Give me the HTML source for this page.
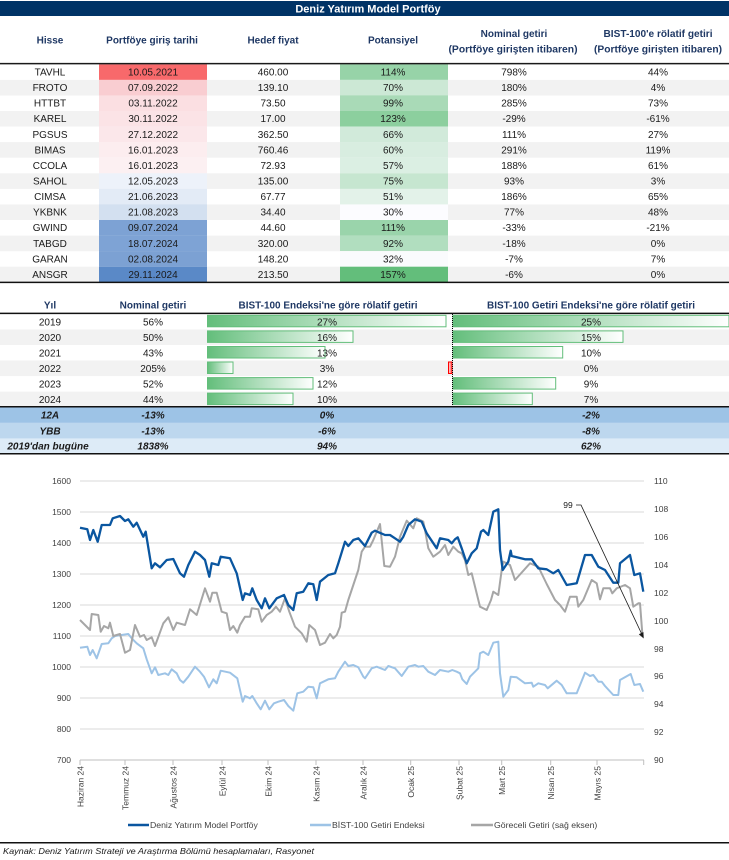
<!DOCTYPE html>
<html><head><meta charset="utf-8"><style>
html,body{margin:0;padding:0;background:#fff;}
svg{display:block;}
text{font-family:"Liberation Sans",sans-serif;}
</style></head><body>
<svg width="729" height="860" viewBox="0 0 729 860" xmlns="http://www.w3.org/2000/svg">
<defs>
<linearGradient id="gg" x1="0" x2="1" y1="0" y2="0"><stop offset="0" stop-color="#63be7b"/><stop offset="1" stop-color="#ffffff"/></linearGradient>
<linearGradient id="rg" x1="1" x2="0" y1="0" y2="0"><stop offset="0" stop-color="#ff5555"/><stop offset="1" stop-color="#ffdddd"/></linearGradient>
</defs>
<rect x="0" y="0" width="729" height="860" fill="#fff"/>
<!-- Title -->
<rect x="0" y="1" width="729" height="15" fill="#003366"/>
<text x="368" y="12.5" font-size="11" font-weight="bold" fill="#fff" text-anchor="middle">Deniz Yatırım Model Portföy</text>
<!-- Header -->
<g font-size="10" font-weight="bold" fill="#1f3864" text-anchor="middle">
<text x="50" y="43.5">Hisse</text>
<text x="152" y="43.5">Portföye giriş tarihi</text>
<text x="273" y="43.5">Hedef fiyat</text>
<text x="393" y="43.5">Potansiyel</text>
<text x="514" y="37">Nominal getiri</text>
<text x="513" y="52.5" textLength="129" lengthAdjust="spacingAndGlyphs">(Portföye girişten itibaren)</text>
<text x="658" y="37" textLength="109" lengthAdjust="spacingAndGlyphs">BIST-100'e rölatif getiri</text>
<text x="658" y="52.5" textLength="128" lengthAdjust="spacingAndGlyphs">(Portföye girişten itibaren)</text>
</g>
<!-- rows backgrounds -->
<g>
<rect x="0" y="79.9" width="729" height="15.6" fill="#f2f2f2"/>
<rect x="0" y="111.0" width="729" height="15.6" fill="#f2f2f2"/>
<rect x="0" y="142.1" width="729" height="15.6" fill="#f2f2f2"/>
<rect x="0" y="173.3" width="729" height="15.6" fill="#f2f2f2"/>
<rect x="0" y="204.4" width="729" height="15.6" fill="#f2f2f2"/>
<rect x="0" y="235.6" width="729" height="15.6" fill="#f2f2f2"/>
<rect x="0" y="266.7" width="729" height="15.6" fill="#f2f2f2"/>
</g>
<!-- date cells -->
<g>
<rect x="99" y="64.3" width="108" height="15.6" fill="#f8696b"/>
<rect x="99" y="79.9" width="108" height="15.6" fill="#f9cdd1"/>
<rect x="99" y="95.4" width="108" height="15.6" fill="#fbdfe2"/>
<rect x="99" y="111.0" width="108" height="15.6" fill="#fbe3e6"/>
<rect x="99" y="126.6" width="108" height="15.6" fill="#fbe7ea"/>
<rect x="99" y="142.1" width="108" height="15.6" fill="#fcedef"/>
<rect x="99" y="157.7" width="108" height="15.6" fill="#fcf0f2"/>
<rect x="99" y="173.3" width="108" height="15.6" fill="#edf2fa"/>
<rect x="99" y="188.9" width="108" height="15.6" fill="#e3ebf6"/>
<rect x="99" y="204.4" width="108" height="15.6" fill="#d3e0f0"/>
<rect x="99" y="220.0" width="108" height="15.6" fill="#7da2d4"/>
<rect x="99" y="235.6" width="108" height="15.6" fill="#7ea3d5"/>
<rect x="99" y="251.1" width="108" height="15.6" fill="#7ca1d3"/>
<rect x="99" y="266.7" width="108" height="15.6" fill="#5a89c7"/>
</g>
<!-- potansiyel cells -->
<g>
<rect x="340" y="64.3" width="108" height="15.6" fill="rgb(151,211,168)"/>
<rect x="340" y="79.9" width="108" height="15.6" fill="rgb(204,232,213)"/>
<rect x="340" y="95.4" width="108" height="15.6" fill="rgb(169,218,183)"/>
<rect x="340" y="111.0" width="108" height="15.6" fill="rgb(140,207,158)"/>
<rect x="340" y="126.6" width="108" height="15.6" fill="rgb(209,234,218)"/>
<rect x="340" y="142.1" width="108" height="15.6" fill="rgb(216,237,224)"/>
<rect x="340" y="157.7" width="108" height="15.6" fill="rgb(219,239,227)"/>
<rect x="340" y="173.3" width="108" height="15.6" fill="rgb(198,230,208)"/>
<rect x="340" y="188.9" width="108" height="15.6" fill="rgb(227,242,233)"/>
<rect x="340" y="204.4" width="108" height="15.6" fill="rgb(252,252,255)"/>
<rect x="340" y="220.0" width="108" height="15.6" fill="rgb(154,212,171)"/>
<rect x="340" y="235.6" width="108" height="15.6" fill="rgb(177,222,191)"/>
<rect x="340" y="251.1" width="108" height="15.6" fill="rgb(250,251,253)"/>
<rect x="340" y="266.7" width="108" height="15.6" fill="rgb(99,190,123)"/>
</g>
<line x1="0" y1="63.6" x2="729" y2="63.6" stroke="#1a1a1a" stroke-width="1.5"/>
<line x1="0" y1="282.4" x2="729" y2="282.4" stroke="#111" stroke-width="1.5"/>
<!-- body text -->
<g font-size="10" fill="#1a1a1a" text-anchor="middle">
<text x="50" y="75.5">TAVHL</text><text x="153" y="75.5">10.05.2021</text><text x="273" y="75.5">460.00</text><text x="393" y="75.5">114%</text><text x="514" y="75.5">798%</text><text x="658" y="75.5">44%</text>
<text x="50" y="91.1">FROTO</text><text x="153" y="91.1">07.09.2022</text><text x="273" y="91.1">139.10</text><text x="393" y="91.1">70%</text><text x="514" y="91.1">180%</text><text x="658" y="91.1">4%</text>
<text x="50" y="106.6">HTTBT</text><text x="153" y="106.6">03.11.2022</text><text x="273" y="106.6">73.50</text><text x="393" y="106.6">99%</text><text x="514" y="106.6">285%</text><text x="658" y="106.6">73%</text>
<text x="50" y="122.2">KAREL</text><text x="153" y="122.2">30.11.2022</text><text x="273" y="122.2">17.00</text><text x="393" y="122.2">123%</text><text x="514" y="122.2">-29%</text><text x="658" y="122.2">-61%</text>
<text x="50" y="137.8">PGSUS</text><text x="153" y="137.8">27.12.2022</text><text x="273" y="137.8">362.50</text><text x="393" y="137.8">66%</text><text x="514" y="137.8">111%</text><text x="658" y="137.8">27%</text>
<text x="50" y="153.3">BIMAS</text><text x="153" y="153.3">16.01.2023</text><text x="273" y="153.3">760.46</text><text x="393" y="153.3">60%</text><text x="514" y="153.3">291%</text><text x="658" y="153.3">119%</text>
<text x="50" y="168.9">CCOLA</text><text x="153" y="168.9">16.01.2023</text><text x="273" y="168.9">72.93</text><text x="393" y="168.9">57%</text><text x="514" y="168.9">188%</text><text x="658" y="168.9">61%</text>
<text x="50" y="184.5">SAHOL</text><text x="153" y="184.5">12.05.2023</text><text x="273" y="184.5">135.00</text><text x="393" y="184.5">75%</text><text x="514" y="184.5">93%</text><text x="658" y="184.5">3%</text>
<text x="50" y="200.1">CIMSA</text><text x="153" y="200.1">21.06.2023</text><text x="273" y="200.1">67.77</text><text x="393" y="200.1">51%</text><text x="514" y="200.1">186%</text><text x="658" y="200.1">65%</text>
<text x="50" y="215.6">YKBNK</text><text x="153" y="215.6">21.08.2023</text><text x="273" y="215.6">34.40</text><text x="393" y="215.6">30%</text><text x="514" y="215.6">77%</text><text x="658" y="215.6">48%</text>
<text x="50" y="231.2">GWIND</text><text x="153" y="231.2">09.07.2024</text><text x="273" y="231.2">44.60</text><text x="393" y="231.2">111%</text><text x="514" y="231.2">-33%</text><text x="658" y="231.2">-21%</text>
<text x="50" y="246.8">TABGD</text><text x="153" y="246.8">18.07.2024</text><text x="273" y="246.8">320.00</text><text x="393" y="246.8">92%</text><text x="514" y="246.8">-18%</text><text x="658" y="246.8">0%</text>
<text x="50" y="262.3">GARAN</text><text x="153" y="262.3">02.08.2024</text><text x="273" y="262.3">148.20</text><text x="393" y="262.3">32%</text><text x="514" y="262.3">-7%</text><text x="658" y="262.3">7%</text>
<text x="50" y="277.9">ANSGR</text><text x="153" y="277.9">29.11.2024</text><text x="273" y="277.9">213.50</text><text x="393" y="277.9">157%</text><text x="514" y="277.9">-6%</text><text x="658" y="277.9">0%</text>
</g>

<!-- Second table -->
<g font-size="10" font-weight="bold" fill="#1f3864" text-anchor="middle">
<text x="50" y="308.5">Yıl</text>
<text x="153" y="308.5">Nominal getiri</text>
<text x="328" y="308.5" textLength="179" lengthAdjust="spacingAndGlyphs">BIST-100 Endeksi'ne göre rölatif getiri</text>
<text x="591" y="308.5" textLength="208" lengthAdjust="spacingAndGlyphs">BIST-100 Getiri Endeksi'ne göre rölatif getiri</text>
</g>
<rect x="0" y="329.4" width="729" height="15.6" fill="#f2f2f2"/>
<rect x="0" y="360.5" width="729" height="15.6" fill="#f2f2f2"/>
<rect x="0" y="391.6" width="729" height="15.6" fill="#f2f2f2"/>
<!-- bars col1 -->
<g fill="url(#gg)" stroke="#63be7b" stroke-width="1">
<rect x="207.5" y="315.3" width="238.5" height="11.5"/>
<rect x="207.5" y="330.9" width="145.5" height="11.5"/>
<rect x="207.5" y="346.5" width="117.5" height="11.5"/>
<rect x="207.5" y="362.0" width="25.5" height="11.5"/>
<rect x="207.5" y="377.6" width="105.5" height="11.5"/>
<rect x="207.5" y="393.1" width="85.5" height="11.5"/>
</g>
<!-- bars col2 -->
<g fill="url(#gg)" stroke="#63be7b" stroke-width="1">
<rect x="453" y="315.3" width="276" height="11.5"/>
<rect x="453" y="330.9" width="170" height="11.5"/>
<rect x="453" y="346.5" width="109.7" height="11.5"/>
<rect x="453" y="377.6" width="102.7" height="11.5"/>
<rect x="453" y="393.1" width="79.3" height="11.5"/>
</g>
<rect x="448.5" y="362.0" width="3.5" height="11.5" fill="url(#rg)" stroke="#ff0000" stroke-width="1"/>
<line x1="452.5" y1="314" x2="452.5" y2="407" stroke="#000" stroke-width="1" stroke-dasharray="1,1"/>
<line x1="0" y1="313.4" x2="729" y2="313.4" stroke="#111" stroke-width="1.5"/>
<g font-size="10" fill="#1a1a1a" text-anchor="middle">
<text x="50" y="325.3">2019</text><text x="153" y="325.3">56%</text><text x="327" y="325.3">27%</text><text x="591" y="325.3">25%</text>
<text x="50" y="340.9">2020</text><text x="153" y="340.9">50%</text><text x="327" y="340.9">16%</text><text x="591" y="340.9">15%</text>
<text x="50" y="356.5">2021</text><text x="153" y="356.5">43%</text><text x="327" y="356.5">13%</text><text x="591" y="356.5">10%</text>
<text x="50" y="372.0">2022</text><text x="153" y="372.0">205%</text><text x="327" y="372.0">3%</text><text x="591" y="372.0">0%</text>
<text x="50" y="387.6">2023</text><text x="153" y="387.6">52%</text><text x="327" y="387.6">12%</text><text x="591" y="387.6">9%</text>
<text x="50" y="403.1">2024</text><text x="153" y="403.1">44%</text><text x="327" y="403.1">10%</text><text x="591" y="403.1">7%</text>
</g>
<rect x="0" y="407.3" width="729" height="15.6" fill="#9dc3e6"/>
<rect x="0" y="422.9" width="729" height="15.6" fill="#bdd7ee"/>
<rect x="0" y="438.4" width="729" height="15.4" fill="#ddebf7"/>
<line x1="0" y1="406.8" x2="729" y2="406.8" stroke="#111" stroke-width="1.5"/>
<line x1="0" y1="453.8" x2="729" y2="453.8" stroke="#111" stroke-width="1.5"/>
<g font-size="10" font-weight="bold" font-style="italic" fill="#1a1a1a" text-anchor="middle">
<text x="50" y="418.7">12A</text><text x="153" y="418.7">-13%</text><text x="327" y="418.7">0%</text><text x="591" y="418.7">-2%</text>
<text x="50" y="434.3">YBB</text><text x="153" y="434.3">-13%</text><text x="327" y="434.3">-6%</text><text x="591" y="434.3">-8%</text>
<text x="48" y="449.6">2019'dan bugüne</text><text x="153" y="449.6">1838%</text><text x="327" y="449.6">94%</text><text x="591" y="449.6">62%</text>
</g>

<!-- Chart gridlines -->
<g stroke="#d9d9d9" stroke-width="1">
<line x1="80" y1="481" x2="644" y2="481"/>
<line x1="80" y1="512" x2="644" y2="512"/>
<line x1="80" y1="543" x2="644" y2="543"/>
<line x1="80" y1="574" x2="644" y2="574"/>
<line x1="80" y1="605" x2="644" y2="605"/>
<line x1="80" y1="636" x2="644" y2="636"/>
<line x1="80" y1="667" x2="644" y2="667"/>
<line x1="80" y1="698" x2="644" y2="698"/>
<line x1="80" y1="729" x2="644" y2="729"/>
</g>
<line x1="80" y1="760" x2="644" y2="760" stroke="#bfbfbf" stroke-width="1"/>
<g stroke="#bfbfbf" stroke-width="1">
<line x1="80" y1="760" x2="80" y2="765"/>
<line x1="125" y1="760" x2="125" y2="765"/>
<line x1="173" y1="760" x2="173" y2="765"/>
<line x1="222" y1="760" x2="222" y2="765"/>
<line x1="268" y1="760" x2="268" y2="765"/>
<line x1="316" y1="760" x2="316" y2="765"/>
<line x1="363" y1="760" x2="363" y2="765"/>
<line x1="410.7" y1="760" x2="410.7" y2="765"/>
<line x1="459" y1="760" x2="459" y2="765"/>
<line x1="501.7" y1="760" x2="501.7" y2="765"/>
<line x1="550.7" y1="760" x2="550.7" y2="765"/>
<line x1="597" y1="760" x2="597" y2="765"/>
<line x1="643.7" y1="760" x2="643.7" y2="765"/>
</g>
<g font-size="8.5" fill="#404040" text-anchor="end">
<text x="71" y="484">1600</text>
<text x="71" y="515">1500</text>
<text x="71" y="546">1400</text>
<text x="71" y="577">1300</text>
<text x="71" y="608">1200</text>
<text x="71" y="639">1100</text>
<text x="71" y="670">1000</text>
<text x="71" y="701">900</text>
<text x="71" y="732">800</text>
<text x="71" y="763">700</text>
</g>
<g font-size="8.5" fill="#404040" text-anchor="start">
<text x="654" y="484">110</text>
<text x="654" y="512">108</text>
<text x="654" y="540">106</text>
<text x="654" y="568">104</text>
<text x="654" y="596">102</text>
<text x="654" y="624">100</text>
<text x="654" y="652">98</text>
<text x="654" y="679">96</text>
<text x="654" y="707">94</text>
<text x="654" y="735">92</text>
<text x="654" y="763">90</text>
</g>
<g font-size="8.5" fill="#404040" text-anchor="end">
<text transform="translate(83.5,766) rotate(-90)">Haziran 24</text>
<text transform="translate(128.5,766) rotate(-90)">Temmuz 24</text>
<text transform="translate(176.5,766) rotate(-90)">Ağustos 24</text>
<text transform="translate(225.5,766) rotate(-90)">Eylül 24</text>
<text transform="translate(271.5,766) rotate(-90)">Ekim 24</text>
<text transform="translate(319.5,766) rotate(-90)">Kasım 24</text>
<text transform="translate(366.5,766) rotate(-90)">Aralık 24</text>
<text transform="translate(414.2,766) rotate(-90)">Ocak 25</text>
<text transform="translate(462.5,766) rotate(-90)">Şubat 25</text>
<text transform="translate(505.2,766) rotate(-90)">Mart 25</text>
<text transform="translate(554.2,766) rotate(-90)">Nisan 25</text>
<text transform="translate(600.5,766) rotate(-90)">Mayıs 25</text>
</g>

<!-- Series -->
<polyline fill="none" stroke="#9dc3e6" stroke-width="2" stroke-linejoin="round" points="80,647.7 87.3,646.7 90,655 92.7,650 96.7,658.3 101.7,644 108.3,643.3 111.7,638.3 115,636 128.3,634 131.7,638.3 136.7,643.3 143.3,648.3 146.7,659.3 151.7,673.3 155,667.3 158.3,675 165,673.3 168.3,675 171.7,669.3 176.7,673.3 180,680 183.3,682.7 188.3,676.7 195,666.7 200,671.7 204,676.7 209,687.3 213.3,679.3 216.7,683.3 220.7,670.7 230,672.7 237.3,678.3 242.7,701.7 245,696 250,698.3 252.3,696 256.7,703.3 260.7,709.3 265,700.7 269.3,709.3 274,703.3 278.3,701.7 284,700 288.3,706 293.3,710.7 297.3,693.3 303.3,691.7 308.3,686.7 313.3,687.3 316.7,698.3 320,683.3 328.3,679.3 335,678.3 338.3,671.7 345,661.7 348.3,666 353.3,665 358.3,667.3 363.3,676.7 365,678.3 371.7,668.3 376.7,666.7 385,670 388.3,666 395,668.3 401.7,676 408.3,666.7 415,665 418.3,666.7 423.3,666 428.3,671.7 435,675 440,670 448.3,671.7 452.3,670 456.7,671.7 460,673.3 462.3,679.3 466.7,684 470,676.7 475,671.7 478.3,668.3 480,653.3 483.3,651.7 488.3,655 493.3,642.7 498.3,641.7 500,673.3 503.3,696.7 508.3,690 510.7,676.7 516.7,677.3 525,683.3 531.7,682.7 533.3,686.7 538.3,683.3 545,685 547.7,688.3 556.7,680.7 561.7,685 566.7,693.3 576.7,693.3 585,672.7 590,676 593.3,675 598.3,681.7 601.7,681.7 605,686 613.3,695 618.3,695 620,680 630.7,674 634.3,685 640,684 643.3,691.7"/>
<polyline fill="none" stroke="#a6a6a6" stroke-width="2" stroke-linejoin="round" points="80,620 85,625 90,630 91.7,614 98.3,615 100.7,631.7 104,626 108.3,628.3 110,622.7 113.3,636 120,634 125,652.7 130,650 135,625 140,636.7 144,635 146.7,640 151.7,637.3 155,646 163.3,623.3 168.3,617.3 173.3,630 176.7,622.7 185,625 190,609.3 196.7,615 205,588.3 210,601.7 212.3,592.7 216.7,592.7 221.7,611.7 226.7,613.3 230,630 233.3,626 237.3,632.7 240,625 245,616.7 250,616.7 251.7,608.3 258.3,609.3 261.7,621.7 266.7,615 271.7,611.7 276,606.7 280,611.7 285,598.3 289.3,611.7 295,626.7 301.7,633.3 306.7,641.7 309.3,625 315,630 320,645 325,642.7 330,634 333.3,638.3 336.7,635 340,626.7 341.7,612.7 345,611.7 348.3,600 353.3,585 358.3,570 361.7,551.7 365,546.7 370,546.7 373.3,540 380,524 384.3,566 390,566.7 395,556.7 400,536.7 406.7,520.7 413.3,528.3 416.7,518.3 423.3,521.7 425,530 428.3,548.3 433.3,556.7 440,551.7 445,545 448.3,555 453.3,546.7 458.3,551.7 461.7,553.3 465,560 468.3,575 471.7,573.3 480,606.7 486.7,610 491,600 493.3,591.7 498.3,595 501.7,570 503.3,561.7 510,565 515,580 530,563.3 538.3,566.7 546.7,584 555,600 560,605 565,611.7 570,596.7 576.7,596.7 578.3,606.7 583.3,600 591.7,580 596.7,583.3 600,599.3 603.3,588.3 610,588.3 612.3,593.3 616.7,588.3 625,585 630,588.3 633.3,606.7 638.3,603.3 640,603.3 642.3,633.3"/>
<polyline fill="none" stroke="#0a56a0" stroke-width="2.3" stroke-linejoin="round" points="80,527.7 87.3,529.3 90,540 93.3,530 97.7,541.7 101.7,525 110,525 112.7,518.3 120,516 125,521 128.3,519.3 133.3,526.7 136.7,522.7 143.3,536.7 145.7,531.7 151.7,568.3 155,563.3 160,567.3 166.7,560 173.3,559 180,573.3 184,576.7 188.3,565 195,551.7 200,555 205,560 209.3,576.7 211.7,563.3 218.3,565 220.7,556.7 230,558.3 236.7,573.3 242.7,600 245,593.3 250,595 252.3,588.3 256.7,600 261.7,608.3 265,598.3 269.3,608.3 276.7,598.3 284,595 288.3,605 293.3,610 296.7,593.3 303.3,591.7 308.3,583.3 313.3,584.3 316.7,600 320,581.7 328.3,575 335,573.3 338.3,563.3 345,541.7 348.3,546 353.3,540 358.3,538.3 365,546 371.7,532.7 375,530.7 385,535 390,535 395,538.3 400,541.7 403.3,536.7 408.3,525 415,519.3 421.7,521.7 426.7,533.3 436.7,548.3 440,538.3 448.3,540 451.7,543.3 455,539.3 457.7,537.3 461.7,548.3 466.7,563.3 471.7,553.3 476.7,548.3 481,531.7 483.3,530 488.3,535 493.3,511.7 498.3,509.3 500,550 502.7,570 508.3,561.7 510.7,550.7 511.7,556 525,559.3 531.7,559.3 538.3,568.3 546.7,569.3 553.3,573.3 558.3,570 566.7,585 576.7,583.3 585,555 591.7,555 598.3,566.7 605,570 613.3,582.7 618.3,582.7 620,563.3 630,555 634.3,575 640,573.3 643.3,591.7"/>

<!-- Annotation -->
<text x="568" y="508" font-size="8.5" fill="#1a1a1a" text-anchor="middle">99</text>
<polyline fill="none" stroke="#1a1a1a" stroke-width="0.8" points="576,505 581,505 641.5,633.5"/>
<polygon points="643.7,638.5 638.8,634.2 643.4,632.0" fill="#1a1a1a"/>

<!-- Legend -->
<line x1="128" y1="825" x2="149" y2="825" stroke="#0a56a0" stroke-width="2.5"/>
<text x="150" y="828" font-size="8.7" fill="#404040">Deniz Yatırım Model Portföy</text>
<line x1="310" y1="825" x2="331" y2="825" stroke="#9dc3e6" stroke-width="2.5"/>
<text x="332" y="828" font-size="8.7" fill="#404040">BİST-100 Getiri Endeksi</text>
<line x1="471" y1="825" x2="493" y2="825" stroke="#a6a6a6" stroke-width="2.5"/>
<text x="494" y="828" font-size="8.7" fill="#404040">Göreceli Getiri (sağ eksen)</text>

<line x1="0" y1="842.7" x2="729" y2="842.7" stroke="#111" stroke-width="1.5"/>
<text x="3" y="854" font-size="8.5" font-style="italic" fill="#1a1a1a" textLength="311" lengthAdjust="spacingAndGlyphs">Kaynak: Deniz Yatırım Strateji ve Araştırma Bölümü hesaplamaları, Rasyonet</text>
</svg>
</body></html>
